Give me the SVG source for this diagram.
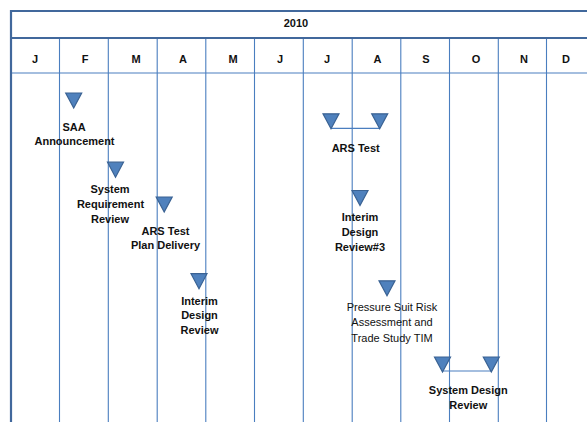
<svg xmlns="http://www.w3.org/2000/svg" width="587" height="422" viewBox="0 0 587 422">
<style>
.bg{fill:#ffffff}
.thick{stroke:#41689c;stroke-width:2.2;fill:none}
.grid{stroke:#4a7ebf;stroke-width:1.1;fill:none}
.conn{stroke:#4a7ebf;stroke-width:1.2;fill:none}
.ms{fill:#4f81bd;stroke:#3a6293;stroke-width:1.2;stroke-linejoin:miter}
.hd{font-family:"Liberation Sans",Arial,sans-serif;font-size:11px;font-weight:bold;fill:#111;text-anchor:middle}
.lb{font-family:"Liberation Sans",Arial,sans-serif;font-size:11px;font-weight:bold;fill:#111;text-anchor:middle}
.lr{font-family:"Liberation Sans",Arial,sans-serif;font-size:11px;fill:#111;text-anchor:middle}
</style>
<defs>
<path id="tri" d="M-8,-7.5 L8,-7.5 L0,7.5 Z" class="ms"/>
</defs>
<rect class="bg" x="0" y="0" width="587" height="422"/>
<g id="grid">
<line class="grid" x1="11" y1="73" x2="587" y2="73"/>
<line class="grid" x1="59.5" y1="38" x2="59.5" y2="422"/>
<line class="grid" x1="108.3" y1="38" x2="108.3" y2="422"/>
<line class="grid" x1="157.2" y1="38" x2="157.2" y2="422"/>
<line class="grid" x1="205.8" y1="38" x2="205.8" y2="422"/>
<line class="grid" x1="254.5" y1="38" x2="254.5" y2="422"/>
<line class="grid" x1="303.3" y1="38" x2="303.3" y2="422"/>
<line class="grid" x1="352.2" y1="38" x2="352.2" y2="422"/>
<line class="grid" x1="400.8" y1="38" x2="400.8" y2="422"/>
<line class="grid" x1="449.5" y1="38" x2="449.5" y2="422"/>
<line class="grid" x1="498.3" y1="38" x2="498.3" y2="422"/>
<line class="grid" x1="546.5" y1="38" x2="546.5" y2="422"/>
<line class="thick" x1="10" y1="11" x2="587" y2="11"/>
<line class="thick" x1="11" y1="38" x2="587" y2="38"/>
<line class="thick" x1="11" y1="10" x2="11" y2="422"/>
</g>
<g id="header">
<text class="hd" x="296" y="27">2010</text>
<text class="hd" x="35" y="62.5">J</text>
<text class="hd" x="85" y="62.5">F</text>
<text class="hd" x="136" y="62.5">M</text>
<text class="hd" x="183" y="62.5">A</text>
<text class="hd" x="233" y="62.5">M</text>
<text class="hd" x="280" y="62.5">J</text>
<text class="hd" x="327" y="62.5">J</text>
<text class="hd" x="377.5" y="62.5">A</text>
<text class="hd" x="426" y="62.5">S</text>
<text class="hd" x="476" y="62.5">O</text>
<text class="hd" x="524" y="62.5">N</text>
<text class="hd" x="566" y="62.5">D</text>
</g>
<g id="connectors">
<line class="conn" x1="331" y1="128.3" x2="380" y2="128.3"/>
<line class="conn" x1="442.5" y1="371" x2="491.3" y2="371"/>
</g>
<g id="saa">
<use href="#tri" x="73.7" y="100.5"/>
<text class="lb" x="74" y="130.7">SAA</text>
<text class="lb" x="74.5" y="145">Announcement</text>
</g>
<g id="srr">
<use href="#tri" x="115.5" y="169.7"/>
<text class="lb" x="110" y="193.3">System</text>
<text class="lb" x="110.5" y="207.7">Requirement</text>
<text class="lb" x="110" y="222.7">Review</text>
</g>
<g id="ars-plan">
<use href="#tri" x="164.2" y="204.5"/>
<text class="lb" x="165.5" y="235">ARS Test</text>
<text class="lb" x="165.5" y="249.3">Plan Delivery</text>
</g>
<g id="idr">
<use href="#tri" x="199" y="281.2"/>
<text class="lb" x="199.5" y="305">Interim</text>
<text class="lb" x="199.5" y="319">Design</text>
<text class="lb" x="199.5" y="334">Review</text>
</g>
<g id="ars-test">
<use href="#tri" x="331" y="121.3"/>
<use href="#tri" x="379.7" y="121.3"/>
<text class="lb" x="355.7" y="151.7">ARS Test</text>
</g>
<g id="idr3">
<use href="#tri" x="360" y="198"/>
<text class="lb" x="360" y="221">Interim</text>
<text class="lb" x="360" y="235.7">Design</text>
<text class="lb" x="360" y="250.7">Review#3</text>
</g>
<g id="pressure">
<use href="#tri" x="387" y="288.3"/>
<text class="lr" x="392" y="310.7">Pressure Suit Risk</text>
<text class="lr" x="392" y="325.7">Assessment and</text>
<text class="lr" x="392" y="341.5">Trade Study TIM</text>
</g>
<g id="sdr">
<use href="#tri" x="442.5" y="364.5"/>
<use href="#tri" x="491.3" y="364.5"/>
<text class="lb" x="468.3" y="394.3">System Design</text>
<text class="lb" x="468.3" y="409.3">Review</text>
</g>
</svg>
